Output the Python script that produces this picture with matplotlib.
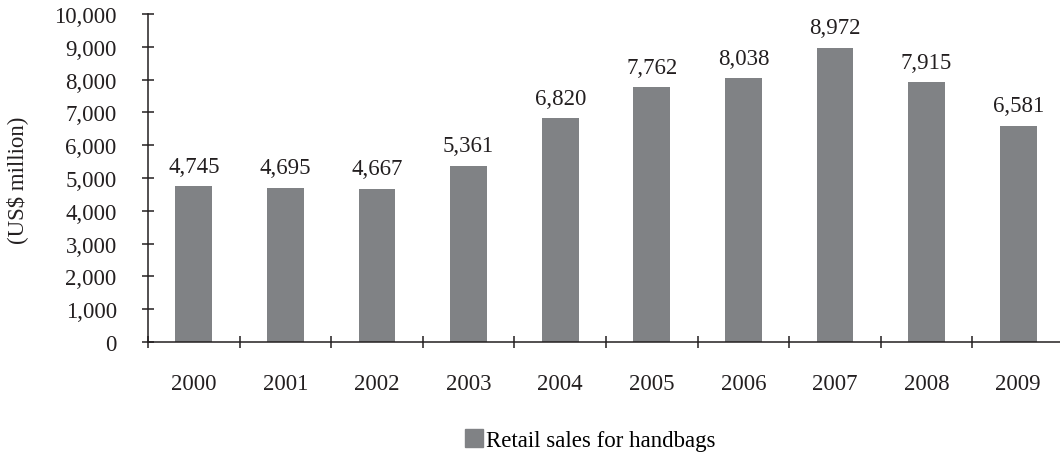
import matplotlib
matplotlib.use("Agg")
import matplotlib.pyplot as plt
from matplotlib.patches import Patch
from matplotlib.ticker import FuncFormatter

years = ["2000", "2001", "2002", "2003", "2004", "2005", "2006", "2007", "2008", "2009"]
sales = [4745, 4695, 4667, 5361, 6820, 7762, 8038, 8972, 7915, 6581]
series_name = "Retail sales for handbags"
y_label = "(US$ million)"

BAR = "#808285"
FS = 16.5

plt.rcParams["font.family"] = ["Liberation Serif", "DejaVu Serif"]

fig = plt.figure(figsize=(10.6, 4.56), dpi=100)
ax = fig.add_axes([148 / 1060, 1 - 343 / 456, 916 / 1060, 328 / 456])

x = list(range(len(years)))
ax.bar(x, sales, width=0.4, color=BAR)
for xi, v in zip(x, sales):
    ax.annotate(f"{v:,}", (xi, v), xytext=(0, 7), textcoords="offset points",
                ha="center", va="bottom", fontsize=FS, color="#231f20")

ax.set_xlim(-0.5, len(years) - 0.5)
ax.set_ylim(0, 10000)
ax.set_yticks(range(0, 10001, 1000))
ax.yaxis.set_major_formatter(FuncFormatter(lambda v, p: f"{int(v):,}"))

ax.set_xticks(x)
ax.set_xticklabels(years)
ax.set_xticks([i - 0.5 for i in range(len(years) + 1)], minor=True)
ax.tick_params(axis="x", which="major", length=0, pad=22, labelsize=FS, labelcolor="#231f20")
ax.tick_params(axis="x", which="minor", direction="inout", length=9, width=1.1, color="#231f20")
ax.tick_params(axis="y", which="major", direction="inout", length=9, width=1.1,
               pad=18, labelsize=FS, labelcolor="#231f20", color="#231f20")

for s in ["top", "right"]:
    ax.spines[s].set_visible(False)
for s in ["left", "bottom"]:
    ax.spines[s].set_color("#231f20")
    ax.spines[s].set_linewidth(1.1)

fig.text(17 / 1060, 1 - 180 / 456, y_label, rotation=90, ha="center", va="center",
         fontsize=FS, color="#231f20")

fig.legend(handles=[Patch(color=BAR, label=series_name)], loc="center",
           bbox_to_anchor=(590 / 1060, 1 - 441 / 456), frameon=False, fontsize=FS,
           handlelength=0.8, handleheight=0.8, handletextpad=0.1)

fig.savefig("out.png", dpi=100)
